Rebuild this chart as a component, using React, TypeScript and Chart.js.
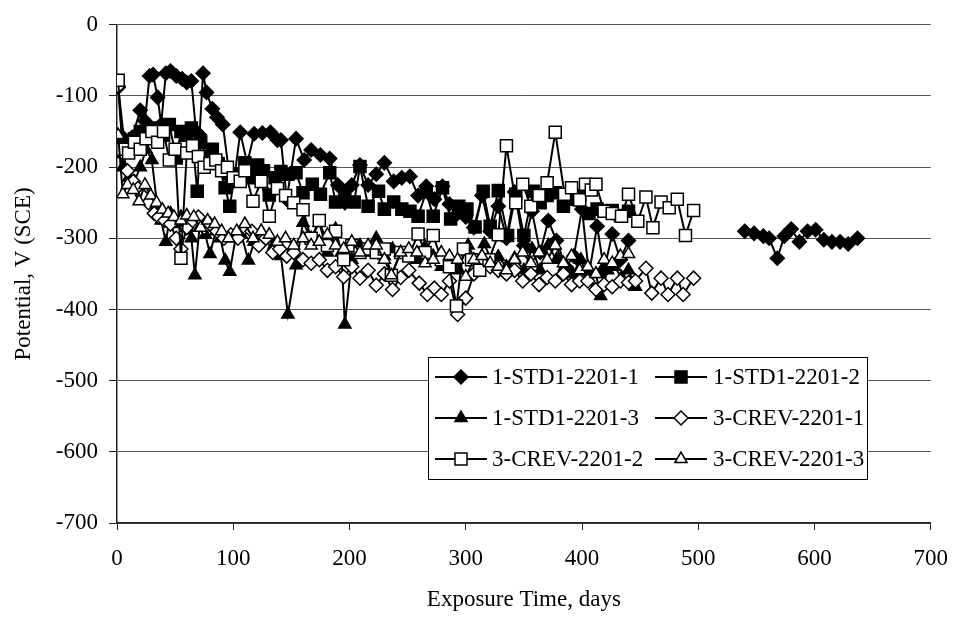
import React, { useEffect, useRef } from 'react';
import { Chart, registerables } from 'chart.js';

Chart.register(...registerables);

const FONT_FAMILY = '"Liberation Serif", "Times New Roman", Times, serif';

// ---------- data ----------
const seriesNames = [
  '1-STD1-2201-1',
  '1-STD1-2201-2',
  '1-STD1-2201-3',
  '3-CREV-2201-1',
  '3-CREV-2201-2',
  '3-CREV-2201-3',
];

const xTicks = [0, 100, 200, 300, 400, 500, 600, 700];
const yTicks = [0, -100, -200, -300, -400, -500, -600, -700];

// 1-STD1-2201-1 (filled diamond)
const s1Days = [1, 6, 13, 20, 24, 28, 31, 35, 38, 42, 46, 51, 56, 60, 64, 68, 71, 74, 77, 82, 86, 91, 97, 101, 106, 112, 118, 125, 132, 138, 141, 146, 154, 161, 167, 175, 183, 190, 196, 202, 209, 216, 223, 230, 238, 245, 252, 259, 266, 273, 280, 286, 293, 300, 307, 314, 321, 328, 335, 342, 350, 357, 364, 371, 378, 386, 393, 400, 406, 413, 419, 426, 433, 440, 490, 540, 548, 556, 561, 568, 574, 580, 587, 594, 601, 608, 615, 622, 629, 637];
const s1Values = [-88, -160, -158, -120, -135, -72, -70, -102, -140, -68, -65, -72, -76, -81, -79, -150, -155, -68, -95, -118, -130, -140, -215, -215, -151, -195, -153, -152, -151, -162, -162, -245, -160, -190, -176, -183, -188, -225, -250, -225, -197, -225, -210, -194, -220, -215, -213, -240, -227, -245, -227, -252, -265, -270, -285, -240, -290, -255, -300, -235, -310, -262, -320, -275, -303, -340, -325, -259, -350, -283, -345, -294, -330, -303, null, -290, -293, -297, -300, -328, -297, -287, -305, -290, -288, -302, -305, -305, -308, -300];

// 1-STD1-2201-2 (filled square)
const s2Days = [1, 5, 10, 15, 20, 25, 30, 35, 40, 45, 51, 55, 60, 64, 69, 72, 77, 82, 87, 93, 97, 101, 106, 110, 115, 121, 126, 131, 136, 141, 147, 154, 160, 168, 175, 183, 188, 196, 204, 209, 216, 225, 230, 238, 245, 252, 259, 266, 272, 280, 287, 294, 301, 308, 315, 321, 328, 336, 343, 350, 358, 364, 370, 377, 384, 391, 398, 406, 413, 419, 426, 433, 440];
const s2Values = [-160, -178, -165, -160, -150, -155, -145, -150, -155, -140, -187, -150, -155, -145, -234, -165, -185, -175, -195, -229, -255, -215, -210, -194, -215, -197, -205, -239, -215, -206, -210, -208, -236, -224, -238, -208, -249, -235, -249, -199, -255, -234, -259, -249, -259, -262, -269, -235, -269, -229, -273, -255, -259, -284, -234, -283, -233, -296, -238, -296, -234, -250, -240, -236, -255, -245, -240, -265, -259, -262, -261, -268, -262];

// 1-STD1-2201-3 (filled triangle)
const s3Days = [1, 5, 10, 15, 20, 25, 30, 35, 38, 42, 46, 51, 55, 60, 64, 67, 71, 76, 80, 85, 89, 93, 97, 102, 107, 113, 118, 124, 130, 135, 141, 147, 154, 160, 167, 174, 181, 188, 193, 196, 202, 209, 216, 223, 230, 237, 244, 251, 258, 265, 272, 279, 286, 293, 302, 309, 316, 323, 328, 335, 342, 350, 357, 364, 371, 378, 385, 392, 399, 406, 412, 416, 422, 428, 434, 440, 446];
const s3Values = [-160, -200, -215, -220, -200, -175, -190, -260, -275, -305, -265, -280, -270, -285, -300, -352, -285, -295, -322, -290, -300, -331, -347, -300, -295, -331, -305, -290, -300, -310, -325, -407, -338, -278, -300, -278, -320, -287, -320, -421, -330, -310, -320, -300, -325, -315, -320, -322, -330, -312, -325, -340, -330, -345, -310, -333, -308, -335, -326, -340, -328, -345, -315, -345, -310, -330, -340, -350, -330, -360, -350, -381, -345, -340, -355, -345, -368];

// 3-CREV-2201-1 (open diamond)
const s4Days = [1, 5, 9, 14, 18, 22, 27, 32, 36, 41, 46, 51, 55, 60, 65, 70, 75, 80, 86, 92, 98, 104, 110, 116, 122, 128, 134, 140, 146, 152, 160, 167, 174, 181, 188, 195, 202, 209, 216, 223, 230, 237, 244, 251, 260, 267, 273, 279, 286, 293, 300, 307, 314, 321, 328, 335, 342, 349, 356, 363, 370, 377, 384, 391, 398, 405, 412, 419, 426, 433, 440, 446, 455, 460, 468, 474, 482, 487, 496];
const s4Values = [-86, -180, -205, -220, -230, -240, -250, -265, -270, -275, -280, -300, -315, -285, -275, -270, -285, -280, -290, -300, -295, -300, -285, -290, -310, -300, -320, -315, -325, -320, -330, -335, -330, -345, -340, -354, -340, -356, -345, -366, -350, -372, -355, -345, -363, -379, -370, -379, -360, -407, -384, -350, -330, -340, -345, -350, -345, -360, -350, -365, -355, -360, -350, -365, -360, -360, -372, -365, -368, -360, -362, -360, -342, -377, -356, -379, -356, -379, -356];

// 3-CREV-2201-2 (open square)
const s5Days = [1, 5, 10, 15, 20, 25, 30, 35, 40, 45, 50, 55, 60, 65, 70, 75, 80, 85, 90, 95, 100, 106, 110, 117, 124, 131, 138, 145, 152, 160, 167, 174, 181, 188, 195, 202, 209, 216, 223, 230, 236, 244, 251, 259, 265, 272, 279, 286, 292, 298, 305, 312, 320, 328, 335, 343, 349, 356, 363, 370, 377, 385, 391, 398, 403, 408, 412, 419, 426, 434, 440, 448, 455, 461, 468, 475, 482, 489, 496];
const s5Values = [-78, -175, -180, -165, -175, -160, -150, -165, -150, -190, -175, -328, -180, -170, -185, -200, -195, -190, -205, -200, -215, -220, -205, -248, -220, -269, -230, -240, -250, -260, -300, -275, -310, -290, -330, -310, -320, -315, -320, -315, -352, -320, -325, -294, -320, -296, -330, -340, -395, -315, -330, -345, -330, -295, -170, -250, -224, -255, -240, -222, -151, -238, -229, -246, -224, -232, -224, -262, -265, -269, -238, -276, -242, -285, -249, -257, -245, -296, -261];

// 3-CREV-2201-3 (open triangle)
const s6Days = [1, 5, 9, 14, 19, 24, 29, 34, 39, 44, 49, 55, 60, 66, 72, 78, 84, 90, 96, 103, 110, 117, 124, 131, 138, 145, 152, 160, 167, 174, 181, 188, 195, 202, 209, 216, 223, 230, 236, 244, 251, 258, 265, 272, 279, 286, 293, 300, 307, 314, 321, 328, 335, 342, 349, 356, 363, 370, 377, 384, 391, 398, 405, 412, 419, 426, 433, 440];
const s6Values = [-155, -238, -225, -232, -248, -225, -240, -250, -260, -265, -270, -275, -268, -270, -285, -275, -280, -290, -300, -290, -280, -300, -290, -295, -305, -300, -310, -300, -310, -305, -295, -310, -315, -305, -320, -310, -310, -330, -352, -320, -315, -320, -335, -330, -320, -325, -330, -354, -330, -325, -335, -340, -345, -330, -320, -335, -320, -330, -310, -335, -325, -345, -340, -350, -330, -335, -325, -322];

const seriesDays = [s1Days, s2Days, s3Days, s4Days, s5Days, s6Days];
const seriesValues = [s1Values, s2Values, s3Values, s4Values, s5Values, s6Values];
const seriesMarkers = ['rectRot', 'rect', 'triangle', 'rectRot', 'rect', 'triangle'];
const seriesFilled = [true, true, true, false, false, false];
const markerRadius: Record<string, number> = { rectRot: 7, rect: 8.5, triangle: 7 };

// ---------- legend drawing ----------
function drawMarker(ctx: CanvasRenderingContext2D, style: string, x: number, y: number, r: number, filled: boolean) {
  ctx.beginPath();
  if (style === 'rectRot') {
    ctx.moveTo(x - r, y);
    ctx.lineTo(x, y - r);
    ctx.lineTo(x + r, y);
    ctx.lineTo(x, y + r);
    ctx.closePath();
  } else if (style === 'rect') {
    const s = Math.SQRT1_2 * r;
    ctx.rect(x - s, y - s, 2 * s, 2 * s);
  } else {
    ctx.moveTo(x, y - r);
    ctx.lineTo(x + Math.sin((2 * Math.PI) / 3) * r, y - Math.cos((2 * Math.PI) / 3) * r);
    ctx.lineTo(x + Math.sin((4 * Math.PI) / 3) * r, y - Math.cos((4 * Math.PI) / 3) * r);
    ctx.closePath();
  }
  ctx.fillStyle = filled ? '#000' : '#fff';
  ctx.fill();
  ctx.lineWidth = 1.5;
  ctx.strokeStyle = '#000';
  ctx.stroke();
}

const legendPlugin = {
  id: 'boxLegend',
  afterDraw(chart: any) {
    const ctx: CanvasRenderingContext2D = chart.ctx;
    const box = { x: 428, y: 357, w: 439, h: 122 };
    ctx.save();
    ctx.fillStyle = '#fff';
    ctx.fillRect(box.x, box.y, box.w, box.h);
    ctx.strokeStyle = '#000';
    ctx.lineWidth = 1;
    ctx.strokeRect(box.x + 0.5, box.y + 0.5, box.w, box.h);
    const rows = [377, 418, 459];
    const cols = [
      { l0: 435, l1: 487, m: 461, t: 492 },
      { l0: 655, l1: 707, m: 681, t: 713 },
    ];
    ctx.font = `23px ${FONT_FAMILY}`;
    ctx.textBaseline = 'middle';
    ctx.textAlign = 'left';
    seriesNames.forEach((name, i) => {
      const row = rows[Math.floor(i / 2)];
      const col = cols[i % 2];
      ctx.beginPath();
      ctx.moveTo(col.l0, row);
      ctx.lineTo(col.l1, row);
      ctx.lineWidth = 2;
      ctx.strokeStyle = '#000';
      ctx.stroke();
      drawMarker(ctx, seriesMarkers[i], col.m, row, markerRadius[seriesMarkers[i]], seriesFilled[i]);
      ctx.fillStyle = '#000';
      ctx.fillText(name, col.t, row + 1);
    });
    ctx.restore();
  },
};

export default function App() {
  const canvasRef = useRef<HTMLCanvasElement | null>(null);

  useEffect(() => {
    if (!canvasRef.current) return;
    const datasets = seriesNames.map((name, i) => ({
      label: name,
      data: seriesDays[i].map((d, j) => ({ x: d, y: seriesValues[i][j] })),
      borderColor: '#000',
      borderWidth: 2,
      backgroundColor: seriesFilled[i] ? '#000' : '#fff',
      pointStyle: seriesMarkers[i],
      pointRadius: markerRadius[seriesMarkers[i]],
      pointBorderWidth: 1.5,
      pointBorderColor: '#000',
      pointBackgroundColor: seriesFilled[i] ? '#000' : '#fff',
      tension: 0,
      spanGaps: false,
      order: seriesNames.length - i,
    }));

    const chart = new Chart(canvasRef.current, {
      type: 'line',
      data: { datasets },
      plugins: [legendPlugin],
      options: {
        responsive: false,
        animation: false,
        devicePixelRatio: 1,
        layout: { padding: { left: 0, top: 18, right: 23, bottom: 0 } },
        plugins: { legend: { display: false }, tooltip: { enabled: false } },
        scales: {
          x: {
            type: 'linear',
            min: 0,
            max: 700,
            afterFit: (scale: any) => { scale.height = 101; },
            afterBuildTicks: (scale: any) => { scale.ticks = xTicks.map((v) => ({ value: v })); },
            ticks: {
              font: { family: FONT_FAMILY, size: 23 },
              color: '#000',
              padding: 15,
              maxRotation: 0,
              callback: (v: any) => String(v),
            },
            grid: { drawOnChartArea: false, drawTicks: true, tickLength: 7, color: '#222', lineWidth: 1 },
            border: { display: true, color: '#222', width: 1.5 },
            title: {
              display: true,
              text: 'Exposure Time, days',
              font: { family: FONT_FAMILY, size: 23 },
              color: '#000',
              padding: { top: 0, bottom: 10 },
            },
          },
          y: {
            type: 'linear',
            min: -700,
            max: 0,
            afterFit: (scale: any) => { scale.width = 117; },
            afterBuildTicks: (scale: any) => { scale.ticks = yTicks.map((v) => ({ value: v })); },
            ticks: {
              font: { family: FONT_FAMILY, size: 23 },
              color: '#000',
              padding: 11,
              callback: (v: any) => String(v),
            },
            grid: { color: '#555', lineWidth: 1, drawTicks: true, tickLength: 8, tickColor: '#222' },
            border: { display: true, color: '#222', width: 1.5 },
            title: {
              display: true,
              text: 'Potential, V (SCE)',
              font: { family: FONT_FAMILY, size: 23 },
              color: '#000',
              padding: { top: 10, bottom: 0 },
            },
          },
        },
      },
    } as any);

    return () => chart.destroy();
  }, []);

  return (
    <div style={{ position: 'fixed', left: 0, top: 0, width: 963, height: 624, background: '#fff' }}>
      <canvas ref={canvasRef} width={963} height={624} style={{ display: 'block', width: 963, height: 624 }} />
    </div>
  );
}
